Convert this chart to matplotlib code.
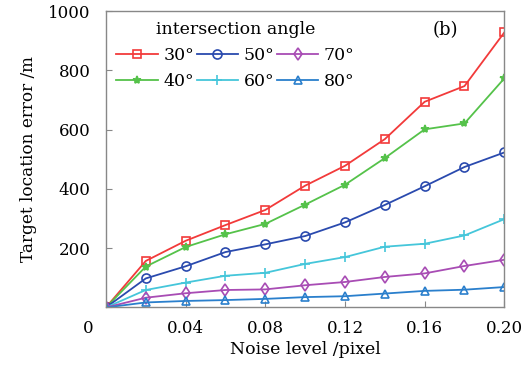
import matplotlib
matplotlib.use("Agg")
import matplotlib.pyplot as plt
import matplotlib.transforms as mtransforms

plt.rcParams["font.family"] = ["DejaVu Serif"]
plt.rcParams["mathtext.fontset"] = "dejavuserif"

noise = [0, 0.02, 0.04, 0.06, 0.08, 0.10, 0.12, 0.14, 0.16, 0.18, 0.20]
angles = ["30°", "40°", "50°", "60°", "70°", "80°"]
err_30 = [0, 157, 225, 278, 329, 411, 478, 568, 694, 747, 928]
err_40 = [0, 138, 204, 247, 282, 347, 414, 504, 601, 621, 773]
err_50 = [0, 98, 139, 187, 213, 241, 287, 346, 409, 474, 523]
err_60 = [0, 59, 84, 107, 117, 147, 170, 205, 215, 243, 298]
err_70 = [0, 33, 48, 59, 61, 75, 86, 103, 115, 140, 161]
err_80 = [0, 17, 22, 25, 29, 35, 38, 47, 56, 60, 69]
series = [err_30, err_40, err_50, err_60, err_70, err_80]

colors = ["#f23a3a", "#55c24a", "#2a4aae", "#45c6da", "#a84cb4", "#2a7fcc"]
markers = ["s", "*", "o", "+", "d", "^"]
msizes = [5.5, 6, 6.5, 6.5, 6, 6]

xticks = [0, 0.04, 0.08, 0.12, 0.16, 0.20]
xticklabels = ["0", "0.04", "0.08", "0.12", "0.16", "0.20"]
yticks = [0, 200, 400, 600, 800, 1000]
yticklabels = ["", "200", "400", "600", "800", "1000"]

fig = plt.figure(figsize=(5.27, 3.69), dpi=100)
ax = fig.add_axes([0.201, 0.1667, 0.756, 0.8033])

for vals, lab, c, m, ms in zip(series, angles, colors, markers, msizes):
    filled = m in ("*", "+")
    ax.plot(noise, vals, color=c, lw=1.3, marker=m, ms=ms,
            mfc=c if filled else "none", mec=c, mew=1.2, label=lab)

ax.set_xlim(0, 0.20)
ax.set_ylim(0, 1000)
ax.set_xticks(xticks)
ax.set_xticklabels(xticklabels)
ax.set_yticks(yticks)
ax.set_yticklabels(yticklabels)
ax.tick_params(direction="in", length=4, width=0.8, color="#888888",
               labelsize=12, top=False, right=False)
ax.tick_params(axis="x", pad=9)
ax.tick_params(axis="y", pad=11)
for sp in ax.spines.values():
    sp.set_color("#888888")
    sp.set_linewidth(1.0)

# shift the shared origin label to the left of the axes corner
shift = mtransforms.ScaledTranslation(-18 / 100, 0, fig.dpi_scale_trans)
first = ax.get_xticklabels()[0]
first.set_transform(first.get_transform() + shift)

ax.set_xlabel("Noise level /pixel", fontsize=12.5, labelpad=3)
ax.set_ylabel("Target location error /m", fontsize=12.2, labelpad=8)

leg = ax.legend(ncol=3, loc="upper left", bbox_to_anchor=(0.0, 1.0),
                frameon=False, fontsize=12.5, title="intersection angle",
                title_fontsize=12.5, handlelength=2.4,
                handletextpad=0.3, columnspacing=0.15, labelspacing=0.5,
                borderaxespad=0.2)

ax.text(0.853, 0.935, "(b)", transform=ax.transAxes, fontsize=13,
        ha="center", va="center")

fig.savefig("out.png", dpi=100)
